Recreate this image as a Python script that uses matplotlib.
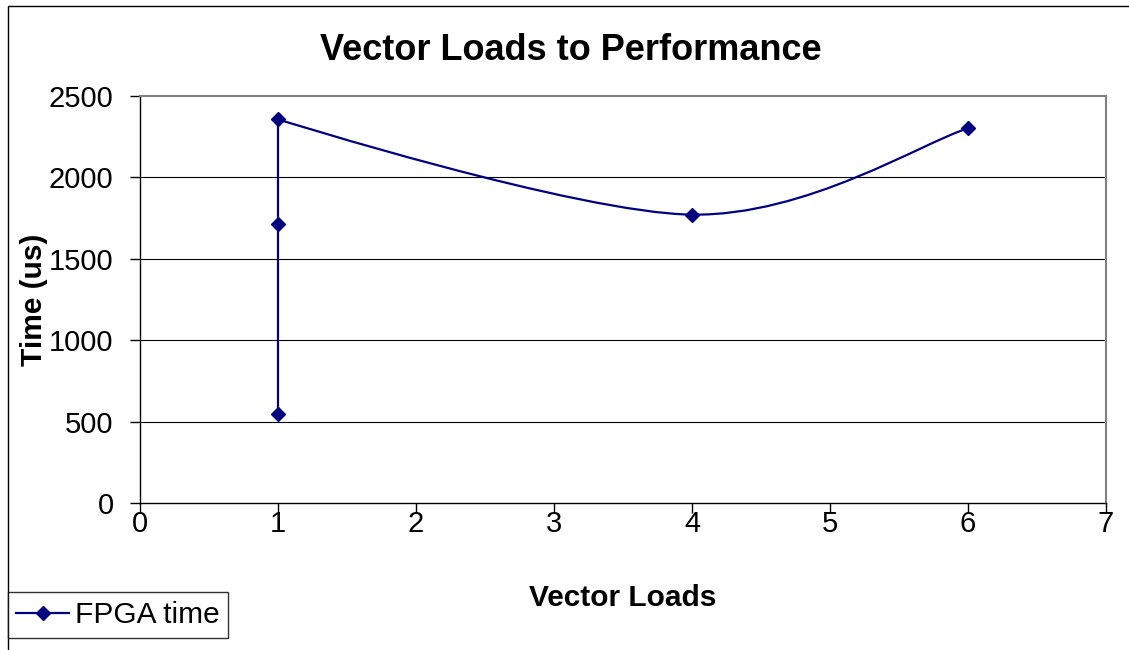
import numpy as np
import matplotlib
matplotlib.use("Agg")
import matplotlib.pyplot as plt
from matplotlib.path import Path
from matplotlib.patches import PathPatch, Rectangle
from matplotlib.lines import Line2D

plt.rcParams['font.family'] = ['Liberation Sans', 'DejaVu Sans']

# FPGA timing vs. number of vector loads
vector_loads = [1, 1, 1, 4, 6]
fpga_time = [545, 1710, 2355, 1770, 2300]

title = "Vector Loads to Performance"
x_label = "Vector Loads"
y_label = "Time (us)"
series_name = "FPGA time"
x_ticks = [0, 1, 2, 3, 4, 5, 6, 7]
y_ticks = [0, 500, 1000, 1500, 2000, 2500]

LINE_COLOR = "#000080"


def smooth_path(xs, ys, tension=1.0 / 6):
    """Bezier path through the points, Catmull-Rom style tangents.
    Points that end a vertical run (same x as one neighbour only) get a corner."""
    pts = np.column_stack([xs, ys]).astype(float)
    n = len(pts)
    tang = np.zeros_like(pts)
    for i in range(n):
        prev = pts[max(i - 1, 0)]
        nxt = pts[min(i + 1, n - 1)]
        same_prev = i > 0 and pts[i - 1][0] == pts[i][0]
        same_next = i < n - 1 and pts[i + 1][0] == pts[i][0]
        if same_prev != same_next:
            continue
        tang[i] = (nxt - prev) * tension
    verts = [pts[0]]
    codes = [Path.MOVETO]
    for i in range(n - 1):
        verts += [pts[i] + tang[i], pts[i + 1] - tang[i + 1], pts[i + 1]]
        codes += [Path.CURVE4] * 3
    return Path(verts, codes)


fig = plt.figure(figsize=(11.29, 6.5), dpi=100)

# chart area frame
fig.patches.append(Rectangle((7.5 / 1129, -0.1), 1.2, 1.1 - 5.5 / 650,
                             transform=fig.transFigure, fill=False,
                             edgecolor="black", linewidth=1.0, zorder=0))

ax = fig.add_axes([140 / 1129, 1 - 503 / 650, (1106 - 140) / 1129, (503 - 95.7) / 650])
ax.set_xlim(0, 7)
ax.set_ylim(0, 2500)
ax.set_xticks(x_ticks)
ax.set_yticks(y_ticks)
ax.tick_params(axis="both", direction="out", length=7, width=1, labelsize=21, color="black")
ax.tick_params(axis="y", pad=12)
ax.tick_params(axis="x", pad=-2)

for y in y_ticks[1:-1]:
    ax.axhline(y, color="black", linewidth=0.8, zorder=1)

for side in ["top", "right"]:
    ax.spines[side].set_color("#808080")
    ax.spines[side].set_linewidth(1.5)
for side in ["left", "bottom"]:
    ax.spines[side].set_color("black")
    ax.spines[side].set_linewidth(1.0)

ax.add_patch(PathPatch(smooth_path(vector_loads, fpga_time), fill=False,
                       edgecolor=LINE_COLOR, linewidth=1.6, zorder=3))
ax.plot(vector_loads, fpga_time, linestyle="none", marker="D", markersize=7,
        color=LINE_COLOR, zorder=4)

fig.text(571 / 1129, 1 - 50 / 650, title, ha="center", va="center",
         fontsize=26, fontweight="bold")
ax.set_xlabel(x_label, fontsize=21.5, fontweight="bold", labelpad=33)
ax.set_ylabel(y_label, fontsize=21.5, fontweight="bold", labelpad=0.5)

handle = Line2D([], [], color=LINE_COLOR, linewidth=1.6, marker="D", markersize=7)
leg = fig.legend([handle], [series_name], loc="lower left",
                 bbox_to_anchor=(7.5 / 1129, 1 - 638 / 650), fontsize=21.5,
                 frameon=True, fancybox=False, handlelength=1.75, handletextpad=0.2,
                 borderpad=0.3, borderaxespad=0)
leg.get_frame().set_edgecolor("black")
leg.get_frame().set_linewidth(1.0)

fig.savefig("out.png", dpi=100)
